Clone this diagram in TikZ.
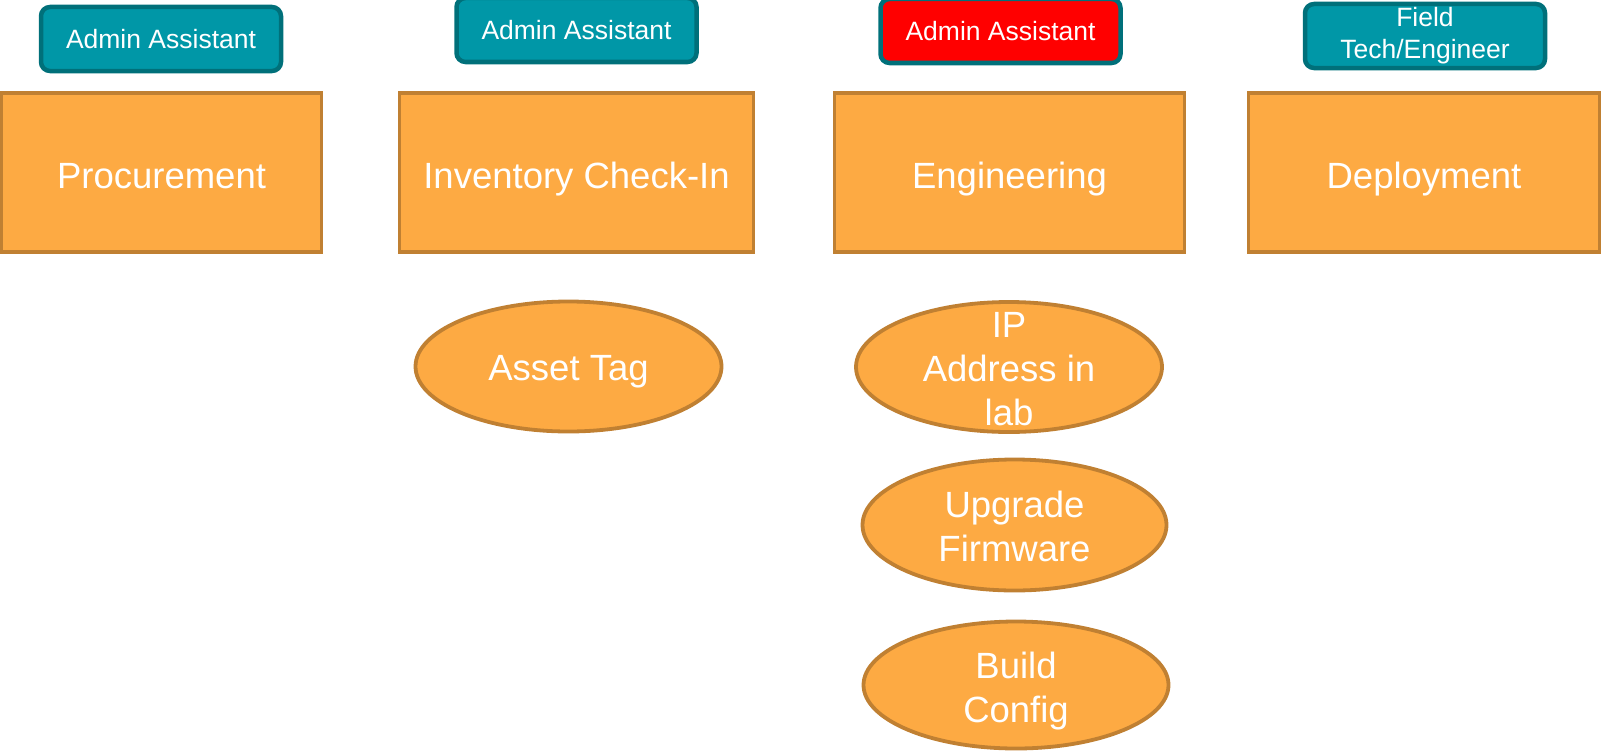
\documentclass[tikz,border=0pt]{standalone}
\usepackage{fontspec}
\setmainfont{Liberation Sans}
\usetikzlibrary{shapes.geometric}

\definecolor{stagefill}{HTML}{FDAA43}
\definecolor{stageline}{HTML}{C08032}
\definecolor{rolefill}{HTML}{0097A7}
\definecolor{roleline}{HTML}{00707A}
\definecolor{alertfill}{HTML}{FF0000}

\tikzset{
  stagebox/.style={draw=stageline, fill=stagefill, line width=3.8pt,
    rectangle, minimum height=159pt, inner sep=0pt, text=white,
    font=\fontsize{36.5}{44}\selectfont, text height=32pt, text depth=0pt},
  rolebox/.style={draw=roleline, fill=rolefill, line width=4.5pt,
    rounded corners=9pt, rectangle, minimum width=240pt, minimum height=64pt,
    inner sep=0pt, text=white, align=center,
    font=\fontsize{26.5}{32}\selectfont},
  taskellipse/.style={draw=stageline, fill=stagefill, line width=3.8pt,
    ellipse, inner sep=0pt},
  tasktext/.style={text=white, align=center, inner sep=0pt,
    font=\fontsize{36.5}{44}\selectfont},
}

\begin{document}
\begin{tikzpicture}[x=1pt, y=-1pt]
  \useasboundingbox (0,0) rectangle (1602,752);

  % process stages
  \node[stagebox, minimum width=320pt] (proc) at (161.5,172.5) {Procurement};
  \node[stagebox, minimum width=354pt] (inv)  at (576.5,172.5) {Inventory Check-In};
  \node[stagebox, minimum width=350pt] (eng)  at (1009.5,172.5) {Engineering};
  \node[stagebox, minimum width=351pt] (dep)  at (1424,172.5) {Deployment};

  % responsible roles
  \node[rolebox] (roleproc) at (161,39) {Admin Assistant};
  \node[rolebox] (roleinv)  at (576.5,30) {Admin Assistant};
  \node[rolebox, fill=alertfill] (roleeng) at (1000.5,31) {Admin Assistant};
  \node[rolebox] (roledep)  at (1425,36) {Field\\Tech/Engineer};

  % tasks within stages
  \node[taskellipse, minimum width=306pt, minimum height=130pt,
        label={[tasktext, yshift=-5pt]center:Asset Tag}] (tag) at (568.5,366.5) {};
  \node[taskellipse, minimum width=306pt, minimum height=130pt,
        label={[tasktext, yshift=-2pt]center:IP\\Address in\\lab}] (ip) at (1009,367) {};
  \node[taskellipse, minimum width=304pt, minimum height=131pt,
        label={[tasktext, yshift=-1pt]center:Upgrade\\Firmware}] (fw) at (1014.5,525) {};
  \node[taskellipse, minimum width=305pt, minimum height=127pt,
        label={[tasktext, yshift=-6pt]center:Build\\Config}] (cfg) at (1016,685) {};
\end{tikzpicture}
\end{document}
